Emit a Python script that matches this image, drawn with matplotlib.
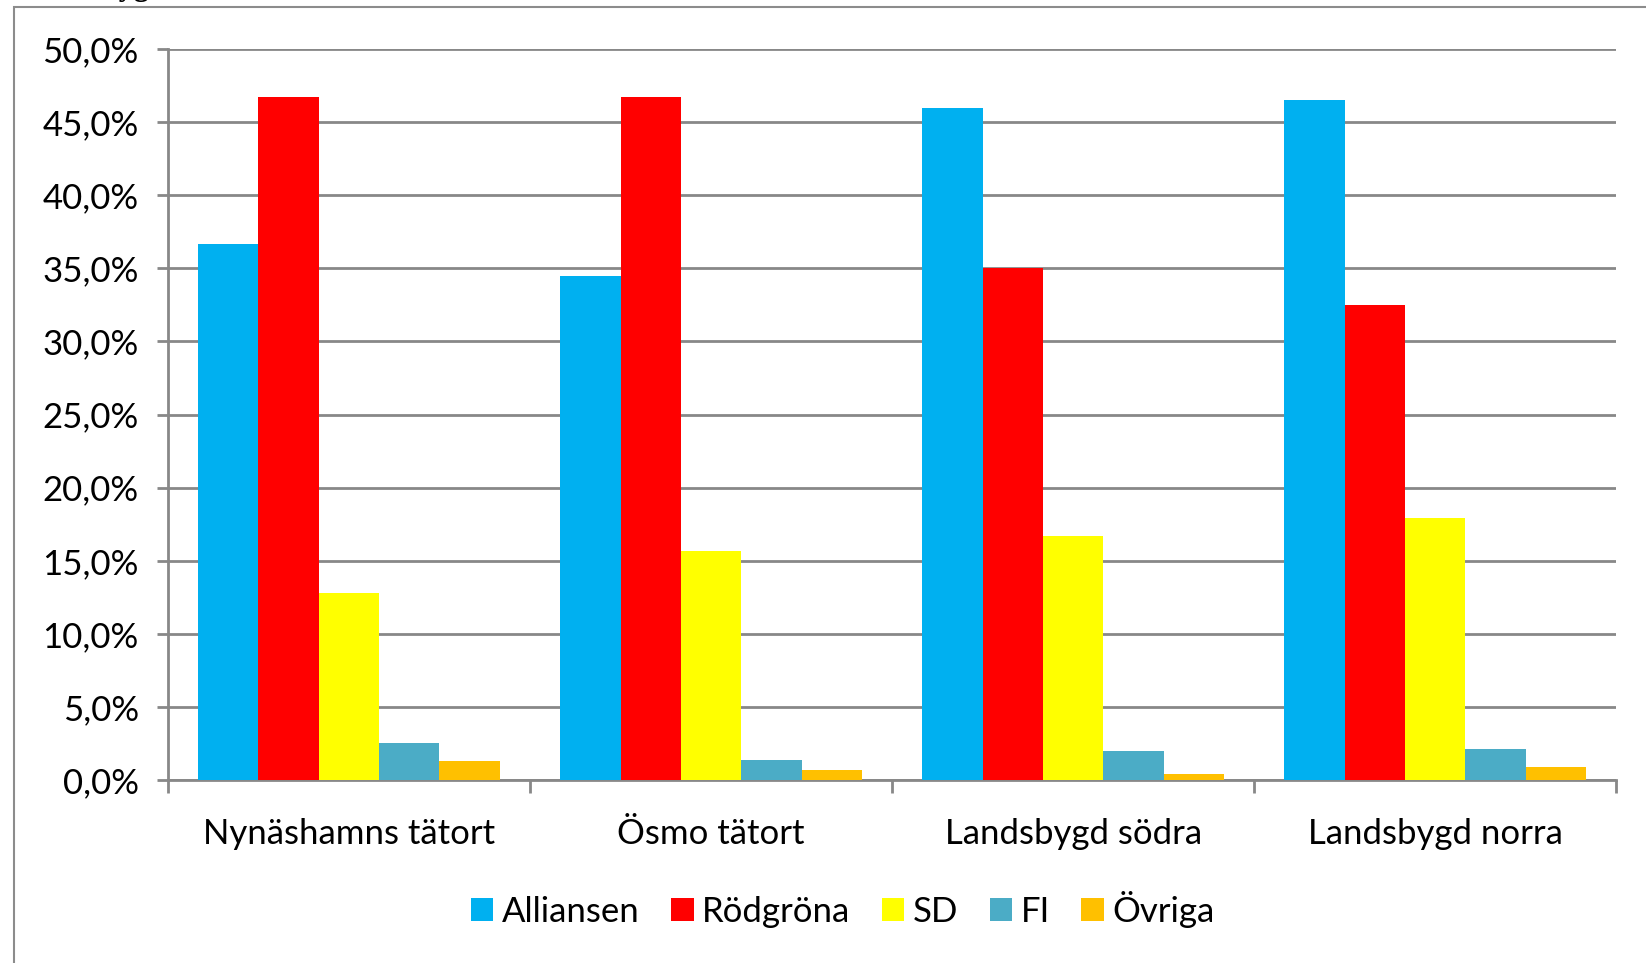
import numpy as np
import matplotlib.pyplot as plt
from matplotlib.patches import Rectangle
from matplotlib.ticker import FuncFormatter, FixedLocator

plt.rcParams['font.family'] = ['Lato', 'DejaVu Sans']

# data
areas = ['Nynäshamns tätort', 'Ösmo tätort', 'Landsbygd södra', 'Landsbygd norra']
alliansen = [36.7, 34.5, 46.0, 46.5]
rodgrona = [46.7, 46.7, 35.0, 32.5]
sd = [12.8, 15.7, 16.7, 17.9]
fi = [2.5, 1.4, 2.0, 2.1]
ovriga = [1.3, 0.7, 0.4, 0.9]

series = [('Alliansen', alliansen, '#00B0F0'),
          ('Rödgröna', rodgrona, '#FF0000'),
          ('SD', sd, '#FFFF00'),
          ('FI', fi, '#4BACC6'),
          ('Övriga', ovriga, '#FFC000')]

fig = plt.figure(figsize=(16.46, 9.63), dpi=100)
ax = fig.add_axes([0.102, 0.190, 0.880, 0.759])

grid_col = '#888888'
x = np.arange(len(areas))
w = 1 / 6
for i, (name, vals, col) in enumerate(series):
    ax.bar(x - 2.5 * w + (i + 0.5) * w, vals, w, color=col, label=name, zorder=3)

ax.set_xlim(-0.5, len(areas) - 0.5)
ax.set_ylim(0, 50)
ax.set_yticks(np.arange(0, 50.1, 5))
ax.yaxis.set_major_formatter(FuncFormatter(lambda v, p: f'{v:.1f}%'.replace('.', ',')))
ax.set_xticks(x)
ax.set_xticklabels(areas)
ax.xaxis.set_minor_locator(FixedLocator(np.arange(-0.5, len(areas), 1)))

ax.grid(axis='y', color=grid_col, linewidth=2, zorder=0)
for s in ['top', 'right']:
    ax.spines[s].set_visible(False)
for s in ['left', 'bottom']:
    ax.spines[s].set_color(grid_col)
    ax.spines[s].set_linewidth(2)

ax.tick_params(axis='y', length=8, width=2, color=grid_col, labelsize=25, pad=13)
ax.tick_params(axis='x', which='major', length=0, labelsize=25, pad=27)
ax.tick_params(axis='x', which='minor', length=9, width=2, color=grid_col)

# chart area border (cut off by image edge)
fig.patches.append(Rectangle((14 / 1646, -0.1), 1.2, 1.1 - 7 / 963, transform=fig.transFigure,
                             fill=False, edgecolor='#8c8c8c', linewidth=1.5))

# header text, cut off at the top like in the source
fig.text(0.012, 1.013, 'Landsbygd norra', family='Liberation Serif', weight='bold',
         fontsize=22, va='center', ha='left')

fig.legend(loc='center', bbox_to_anchor=(0.512, 0.056), ncol=5, frameon=False,
           fontsize=25, handlelength=0.65, handleheight=0.65, handletextpad=0.25,
           columnspacing=0.9)

fig.savefig('out.png', dpi=100)
